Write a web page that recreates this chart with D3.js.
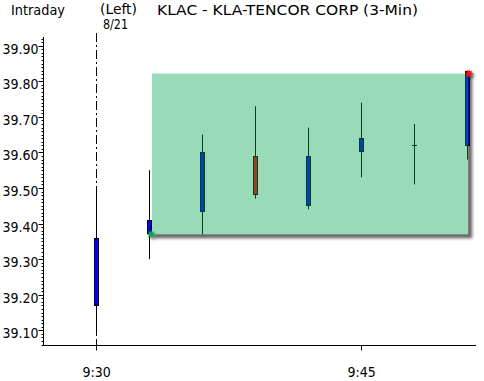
<!DOCTYPE html>
<html>
<head>
<meta charset="utf-8">
<script src="https://cdn.jsdelivr.net/npm/d3@7"></script>
<style>
  body { margin: 0; background: #fff; }
  svg { display: block; }
  text { font-family: "DejaVu Sans Condensed", "Liberation Sans", sans-serif; font-size: 14px; fill: #000; }
</style>
</head>
<body>
<div id="chart-area"></div>
<script>
// 3-min bars, minutes since midnight
const times  = [570, 573, 576, 579, 582, 585, 588, 591];
const opens  = [39.17, 39.37, 39.43, 39.59, 39.45, 39.60, 39.62, 39.62];
const highs  = [39.49, 39.55, 39.65, 39.73, 39.67, 39.74, 39.68, 39.83];
const lows   = [39.09, 39.30, 39.37, 39.47, 39.44, 39.53, 39.51, 39.58];
const closes = [39.36, 39.41, 39.60, 39.48, 39.59, 39.64, 39.62, 39.83];

const yTicks = [39.10, 39.20, 39.30, 39.40, 39.50, 39.60, 39.70, 39.80, 39.90];
const xTicks = [570, 585];
const xTickLabels = ['9:30', '9:45'];

// highlighted box: from the 9:33 bar to the 9:51 bar
const boxStart = { t: 573, v: 39.37 };
const boxEnd = { t: 591, v: 39.822 };

const data = times.map((t, i) => ({ t, o: opens[i], h: highs[i], l: lows[i], c: closes[i] }));

const W = 484, H = 381;
const svg = d3.select('#chart-area')
  .append('svg')
    .attr('width', W)
    .attr('height', H);

const defs = svg.append('defs');
defs.append('filter').attr('id', 'blur')
  .attr('x', '-20%').attr('y', '-20%').attr('width', '140%').attr('height', '140%')
  .append('feGaussianBlur').attr('stdDeviation', 1.6);
const ds = defs.append('filter').attr('id', 'mshadow')
  .attr('x', '-100%').attr('y', '-100%').attr('width', '300%').attr('height', '300%');
ds.append('feDropShadow').attr('dx', 2).attr('dy', 2).attr('stdDeviation', 1.2)
  .attr('flood-color', '#000').attr('flood-opacity', 0.5);

const x = d3.scaleLinear().domain([567, 591.5]).range([43, 476]);
const y = d3.scaleLinear().domain([39.0587, 39.9245]).range([345, 37]);

// header
svg.append('text').attr('x', 11).attr('y', 15).attr('textLength', 54)
  .attr('lengthAdjust', 'spacingAndGlyphs').text('Intraday');
svg.append('text').attr('x', 100).attr('y', 14).attr('textLength', 37)
  .attr('lengthAdjust', 'spacingAndGlyphs').text('(Left)');
svg.append('text').attr('x', 103).attr('y', 29).attr('textLength', 25)
  .attr('lengthAdjust', 'spacingAndGlyphs').text('8/21');
svg.append('text').attr('x', 157).attr('y', 15).attr('textLength', 261)
  .attr('lengthAdjust', 'spacingAndGlyphs')
  .text('KLAC - KLA-TENCOR CORP  (3-Min)');

// session start line
svg.append('line')
  .attr('x1', x(570) + 0.5).attr('x2', x(570) + 0.5)
  .attr('y1', 33).attr('y2', 350)
  .attr('stroke', '#000')
  .attr('stroke-dasharray', '9,3,2,3');

// box shadow + white backing
const bx1 = x(boxStart.t) + 3, bx2 = x(boxEnd.t) + 1;
const by1 = y(boxEnd.v), by2 = y(boxStart.v);
svg.append('rect')
  .attr('x', bx1 + 3).attr('y', by1 + 3)
  .attr('width', bx2 - bx1 + 1).attr('height', by2 - by1 + 1)
  .attr('fill', '#666')
  .attr('filter', 'url(#blur)');
svg.append('rect')
  .attr('x', bx1).attr('y', by1)
  .attr('width', bx2 - bx1).attr('height', by2 - by1)
  .attr('fill', '#fff');

// candles
const cg = svg.append('g');
cg.selectAll('line.wick')
  .data(data)
  .enter().append('line')
    .attr('class', 'wick')
    .attr('x1', d => Math.round(x(d.t)) + 0.5)
    .attr('x2', d => Math.round(x(d.t)) + 0.5)
    .attr('y1', d => y(d.h))
    .attr('y2', d => y(d.l))
    .attr('stroke', '#000');

cg.selectAll('rect.body')
  .data(data.filter(d => d.o !== d.c))
  .enter().append('rect')
    .attr('class', 'body')
    .attr('x', d => Math.round(x(d.t)) - 1.5)
    .attr('width', 4)
    .attr('y', d => Math.round(y(Math.max(d.o, d.c))) + 0.5)
    .attr('height', d => Math.max(1, Math.round(Math.abs(y(d.o) - y(d.c))) - 1))
    .attr('fill', d => d.c > d.o ? '#0000ff' : '#ff0000')
    .attr('stroke', '#000');

cg.selectAll('line.doji')
  .data(data.filter(d => d.o === d.c))
  .enter().append('line')
    .attr('class', 'doji')
    .attr('x1', d => Math.round(x(d.t)) - 2)
    .attr('x2', d => Math.round(x(d.t)) + 3)
    .attr('y1', d => Math.round(y(d.c)) + 0.5)
    .attr('y2', d => Math.round(y(d.c)) + 0.5)
    .attr('stroke', '#000');

// translucent box
svg.append('rect')
  .attr('x', bx1).attr('y', by1)
  .attr('width', bx2 - bx1).attr('height', by2 - by1)
  .attr('fill', 'rgb(0,165,78)')
  .attr('fill-opacity', 0.4);

// corner markers
const burst = (r1, r2, n) => {
  const pts = [];
  for (let i = 0; i < n * 2; i++) {
    const a = Math.PI * i / n;
    const r = i % 2 ? r2 : r1;
    pts.push([Math.cos(a) * r, Math.sin(a) * r]);
  }
  return d3.line()(pts) + 'Z';
};
svg.append('path')
  .attr('d', burst(4.5, 2.2, 8))
  .attr('transform', `translate(${bx1 - 1},${by2})`)
  .attr('fill', '#10a050')
  .attr('filter', 'url(#mshadow)');
svg.append('path')
  .attr('d', burst(4.5, 2.2, 8))
  .attr('transform', `translate(${bx2 + 1},${by1})`)
  .attr('fill', '#ff1010')
  .attr('filter', 'url(#mshadow)');

// y axis
const yAxis = svg.append('g').attr('transform', 'translate(43.5,0)');
yAxis.append('line')
  .attr('y1', 37).attr('y2', 345.5)
  .attr('stroke', '#000');
const minor = d3.range(39.06, 39.925, 0.01);
yAxis.selectAll('line.minor')
  .data(minor)
  .enter().append('line')
    .attr('class', 'minor')
    .attr('x1', -2).attr('x2', 0)
    .attr('y1', d => Math.round(y(d)) + 0.5)
    .attr('y2', d => Math.round(y(d)) + 0.5)
    .attr('stroke', '#000');
yAxis.selectAll('line.major')
  .data(yTicks)
  .enter().append('line')
    .attr('class', 'major')
    .attr('x1', -5).attr('x2', 0)
    .attr('y1', d => Math.round(y(d)) + 0.5)
    .attr('y2', d => Math.round(y(d)) + 0.5)
    .attr('stroke', '#000');
yAxis.selectAll('text')
  .data(yTicks)
  .enter().append('text')
    .attr('x', -5)
    .attr('y', d => y(d) + 8)
    .attr('text-anchor', 'end')
    .text(d => d.toFixed(2));

// x axis
const xAxis = svg.append('g').attr('transform', 'translate(0,345.5)');
xAxis.append('line')
  .attr('x1', 43).attr('x2', 476)
  .attr('stroke', '#000');
xAxis.selectAll('line.tick')
  .data(xTicks)
  .enter().append('line')
    .attr('class', 'tick')
    .attr('x1', d => Math.round(x(d)) + 0.5)
    .attr('x2', d => Math.round(x(d)) + 0.5)
    .attr('y1', 0).attr('y2', 5)
    .attr('stroke', '#000');
xAxis.selectAll('text')
  .data(xTicks)
  .enter().append('text')
    .attr('x', d => x(d) + 0.5)
    .attr('y', 31.5)
    .attr('text-anchor', 'middle')
    .text((d, i) => xTickLabels[i]);
</script>
</body>
</html>
